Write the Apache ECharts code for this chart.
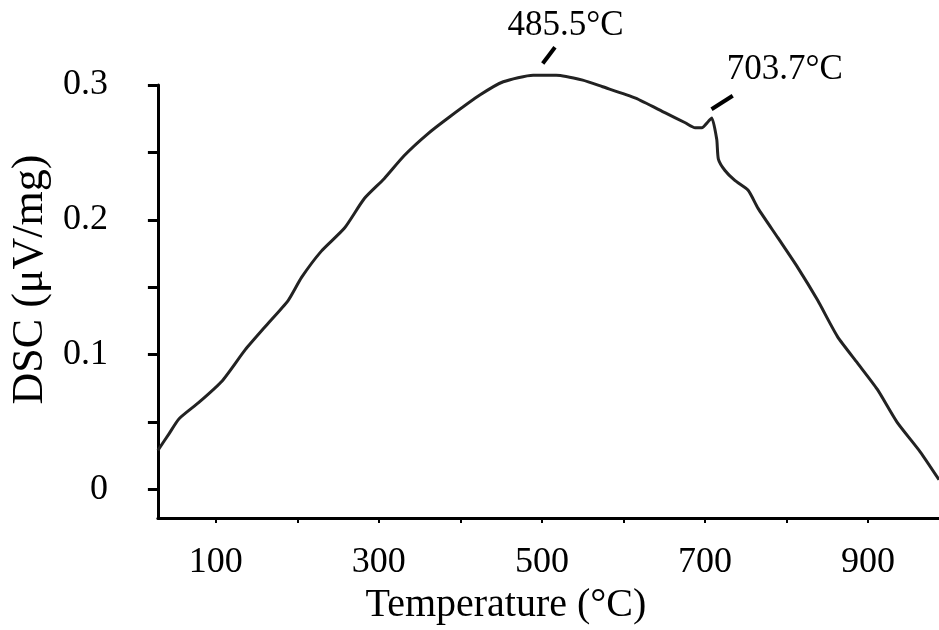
<!DOCTYPE html>
<html>
<head>
<meta charset="utf-8">
<title>DSC curve</title>
<script src="https://cdn.jsdelivr.net/npm/echarts@6/dist/echarts.min.js"></script>
<style>
  html, body { margin: 0; padding: 0; background: #fff; }
  #chart { width: 939px; height: 630px; }
</style>
</head>
<body>
<div id="chart"></div>
<script>
// 曲线数据
const temperature = [29, 30.6, 42.8, 55, 79.3, 107.8, 136.2, 160.5, 188.9, 205.2, 229.5, 257.9, 282.2,
  306.5, 330.9, 359.3, 387.8, 424.3, 452.6, 489.2, 517.5, 550, 574.4, 614.9, 651.4, 675.8, 688,
  696.1, 704.3, 708.3, 714.4, 716.4, 724.5, 736.6, 752.9, 765.1, 789.5, 813.8, 838.2, 862.5,
  886.9, 911.2, 935.5, 963.9, 987]
const dsc = [0.029, 0.0305, 0.0415, 0.0525, 0.0646, 0.0805, 0.1037, 0.1207, 0.1403, 0.1573, 0.1768,
  0.1939, 0.2158, 0.2305, 0.2475, 0.2634, 0.2768, 0.2927, 0.3024, 0.3073, 0.3073, 0.3036, 0.2987,
  0.2903, 0.2793, 0.272, 0.2683, 0.2683, 0.2731, 0.2756, 0.2597, 0.2451, 0.2366, 0.2292, 0.2219,
  0.2085, 0.1866, 0.1646, 0.1403, 0.1134, 0.0939, 0.0744, 0.05, 0.028, 0.0073]

// 刻度
const xTicks = [100, 200, 300, 400, 500, 600, 700, 800, 900]
const xLabels = [100, 300, 500, 700, 900]
const yTicks = [0, 0.05, 0.1, 0.15, 0.2, 0.25, 0.3]
const yLabels = [0, 0.1, 0.2, 0.3]

// 峰值标注 (数据坐标)
const peakNames = ['485.5°C', '703.7°C']
const peakTextAt = [[529, 0.344], [798, 0.311]]
const peakLineFrom = [[501, 0.316], [708, 0.282]]
const peakLineTo = [[516, 0.328], [734, 0.292]]

const font = "'Liberation Serif', 'Times New Roman', serif"

const chart = echarts.init(document.getElementById('chart'))

const option = {
  backgroundColor: '#fff',
  animation: false,
  grid: { left: 152, right: 0, top: 85, bottom: 106 },
  xAxis: {
    type: 'value',
    min: 29,
    max: 987,
    name: 'Temperature (°C)',
    nameLocation: 'middle',
    nameGap: 62,
    nameTextStyle: { fontFamily: font, fontSize: 40, color: '#000', padding: [0, 85, 0, 0] },
    axisLine: { onZero: false, lineStyle: { color: '#000', width: 3 } },
    axisTick: { customValues: xTicks, length: 5, lineStyle: { color: '#000', width: 2 } },
    axisLabel: { customValues: xLabels, fontFamily: font, fontSize: 36, color: '#000', margin: 26 },
    splitLine: { show: false }
  },
  yAxis: {
    type: 'value',
    min: -0.0212,
    max: 0.3,
    name: 'DSC (μV/mg)',
    nameLocation: 'middle',
    nameGap: 100,
    nameRotate: 90,
    nameTextStyle: { fontFamily: font, fontSize: 44, color: '#000', padding: [0, 0, 0, 44] },
    axisLine: { show: true, onZero: false, lineStyle: { color: '#000', width: 3 } },
    axisTick: { show: true, customValues: yTicks, length: 10, lineStyle: { color: '#000', width: 3 } },
    axisLabel: { customValues: yLabels, fontFamily: font, fontSize: 36, color: '#000', margin: 50 },
    splitLine: { show: false }
  },
  series: [
    {
      type: 'line',
      data: temperature.map((t, i) => [t, dsc[i]]),
      showSymbol: false,
      smooth: 0.2,
      clip: false,
      lineStyle: { color: '#222', width: 3 }
    }
  ]
}

option && chart.setOption(option)

// 标注: 用数据坐标换算到像素
const toPx = p => chart.convertToPixel({ gridIndex: 0 }, p)
const graphics = []
peakNames.forEach((n, i) => {
  const a = toPx(peakLineFrom[i])
  const b = toPx(peakLineTo[i])
  const t = toPx(peakTextAt[i])
  graphics.push({
    type: 'line',
    shape: { x1: a[0], y1: a[1], x2: b[0], y2: b[1] },
    style: { stroke: '#000', lineWidth: 4 }
  })
  graphics.push({
    type: 'text',
    x: t[0],
    y: t[1],
    style: { text: n, font: '35px ' + font, fill: '#000', align: 'center', verticalAlign: 'middle' }
  })
})
chart.setOption({ graphic: graphics })
</script>
</body>
</html>
